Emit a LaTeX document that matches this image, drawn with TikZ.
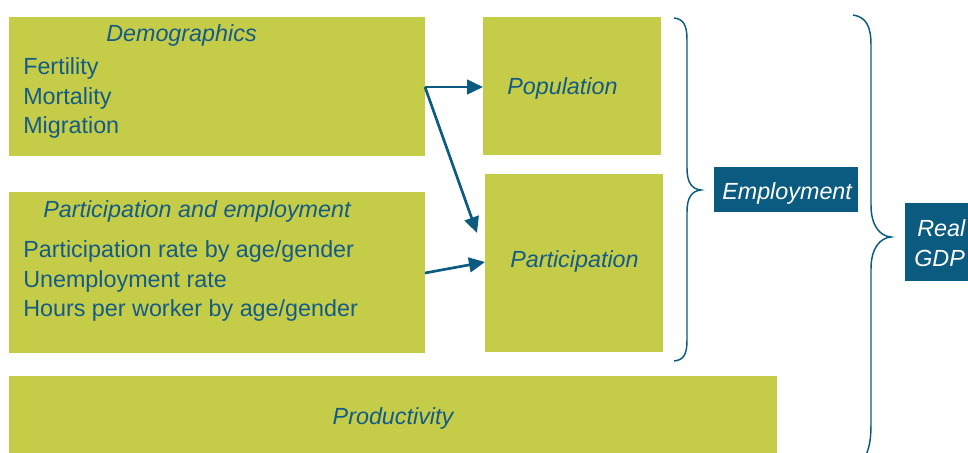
\documentclass[tikz,border=0pt]{standalone}
\usepackage{fontspec}
\setmainfont{Liberation Sans}
\usetikzlibrary{arrows.meta}
\definecolor{olive}{HTML}{C5CC48}
\definecolor{navy}{HTML}{0B5B80}
\definecolor{ink}{HTML}{145C85}
\tikzset{
  box/.style={fill=olive, draw=none, inner sep=0pt, outer sep=0pt},
  dbox/.style={fill=navy, draw=none, inner sep=0pt, outer sep=0pt},
  txt/.style={anchor=base west, inner sep=0pt, text=ink, font=\fontsize{17.5}{22}\selectfont},
  itxt/.style={txt, font=\fontsize{17.5}{22}\selectfont\itshape},
  wtxt/.style={itxt, text=white},
  arr/.style={draw=navy, line width=2pt, -{Triangle[length=12pt,width=11pt]}},
  brace/.style={draw=navy, line width=1.1pt}
}
\begin{document}
\begin{tikzpicture}[x=0.75pt,y=-0.75pt]
\useasboundingbox (0,0) rectangle (968,453);
% boxes
\path[box] (9,17) rectangle (425,156);
\coordinate (demo) at (425,87);
\path[box] (483,17) rectangle (661,155);
\coordinate (pop) at (483,87);
\path[box] (9,192) rectangle (425,353);
\coordinate (part) at (425,273);
\path[box] (485,174) rectangle (663,352);
\coordinate (partc) at (485,262);
\coordinate (partt) at (477,233);
\path[box] (9,376) rectangle (777,460);
\path[dbox] (714,167) rectangle (858,212);
\path[dbox] (905,203) rectangle (990,281);
% texts
\node[itxt] (tdemo) at (106,42) {Demographics};
\node[txt] (tf) at (23,75) {Fertility};
\node[txt] (tm) at (23,104) {Mortality};
\node[txt] (tmi) at (23,133) {Migration};
\node[itxt] (tpe) at (43,217) {Participation and employment};
\node[txt] (t1) at (23,257) {Participation rate by age/gender};
\node[txt] (t2) at (23,287) {Unemployment rate};
\node[txt] (t3) at (23,316) {Hours per worker by age/gender};
\node[itxt] (tpop) at (507,94) {Population};
\node[itxt] (tpar) at (510,267) {Participation};
\node[itxt, anchor=base] (tprod) at (393,424) {Productivity};
\node[wtxt] (temp) at (722,199) {Employment};
\node[wtxt] (treal) at (917,236) {Real};
\node[wtxt] (tgdp) at (914,266) {GDP};
% arrows
\draw[arr] (demo) -- (pop);
\draw[arr] (demo) -- (partt);
\draw[arr] (part) -- (partc);
% braces
\draw[brace] (674,18) .. controls (684,19) and (687,26) .. (687,40)
  -- (687,168) .. controls (687,183) and (692,189) .. (701,190)
  .. controls (692,191) and (687,197) .. (687,212)
  -- (687,340) .. controls (687,354) and (684,360) .. (674,361);
\draw[brace] (853,15) .. controls (866,17) and (871,26) .. (871,45)
  -- (871,205) .. controls (871,226) and (880,236) .. (891,237)
  .. controls (880,238) and (871,248) .. (871,269)
  -- (871,425) .. controls (871,440) and (869,448) .. (866,455);
\end{tikzpicture}
\end{document}
